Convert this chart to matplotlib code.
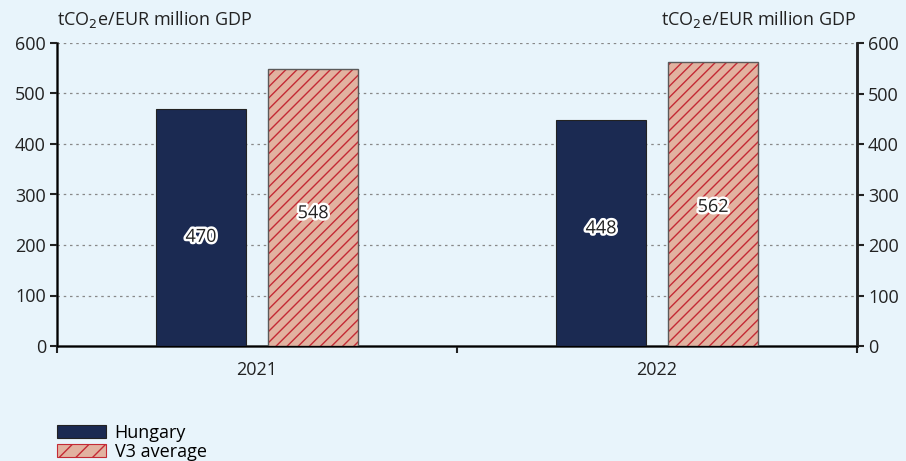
import matplotlib
matplotlib.use("Agg")
import matplotlib.pyplot as plt
import matplotlib.patheffects as pe
from matplotlib.patches import Patch
from matplotlib.ticker import FixedLocator
import numpy as np

years = ["2021", "2022"]
hungary = [470, 448]
v3_average = [548, 562]
series_names = ["Hungary", "V3 average"]
unit_label = "tCO$_2$e/EUR million GDP"

bg = "#E8F4FB"
navy = "#1B2A52"
salmon = "#E2B2A0"
hatch_red = "#C42A35"
edge_gray = "#5A5A5A"

plt.rcParams["font.family"] = ["Open Sans", "DejaVu Sans"]
plt.rcParams["hatch.linewidth"] = 1.0

fig = plt.figure(figsize=(9.06, 4.61), dpi=100, facecolor=bg)
ax = fig.add_axes([57 / 906, 1 - 346 / 461, 800 / 906, 303 / 461], facecolor=bg)

x = np.arange(len(years))
w = 0.225
off = 0.14

ax.bar(x - off, hungary, w, color=navy, edgecolor="#222222", linewidth=0.8, zorder=3)
ax.bar(x + off, v3_average, w, color=salmon, edgecolor=hatch_red, hatch="///",
       linewidth=0, zorder=3)
ax.bar(x + off, v3_average, w, fill=False, edgecolor=edge_gray, linewidth=1.0, zorder=4)

# value labels sit inside the bars, a little off centre
hu_label_frac = [0.46, 0.52]
v3_label_frac = [0.48, 0.49]
stroke = [pe.withStroke(linewidth=3.5, foreground="white")]
for xi, v, f in zip(x - off, hungary, hu_label_frac):
    ax.text(xi, v * f, f"{v}", ha="center", va="center", fontsize=13,
            color="#222222", path_effects=stroke, zorder=5)
for xi, v, f in zip(x + off, v3_average, v3_label_frac):
    ax.text(xi, v * f, f"{v}", ha="center", va="center", fontsize=13,
            color="#222222", path_effects=stroke, zorder=5)

ax.set_xlim(-0.5, 1.5)
ax.set_ylim(0, 600)
yt = np.arange(0, 601, 100)
ax.set_yticks(yt)
ax.set_yticklabels([str(t) for t in yt], fontsize=13, color="#222222")
for t in yt[1:]:
    ax.axhline(t, color="#888888", linestyle=(0, (2, 3)), linewidth=0.9, zorder=1)

ax.set_xticks(x)
ax.set_xticklabels(years, fontsize=13, color="#222222")
ax.tick_params(axis="x", which="major", length=0, pad=11)
ax.xaxis.set_minor_locator(FixedLocator([-0.5, 0.5, 1.5]))
ax.tick_params(axis="x", which="minor", length=5, width=1.5, direction="out", color="#222222")
ax.tick_params(axis="y", length=5, width=1.5, direction="out", color="#222222", pad=3)

ax.spines["top"].set_visible(False)
for s in ["left", "right", "bottom"]:
    ax.spines[s].set_linewidth(1.8)
    ax.spines[s].set_color("#222222")

ax2 = ax.twinx()
ax2.set_ylim(0, 600)
ax2.set_yticks(yt)
ax2.set_yticklabels([str(t) for t in yt], fontsize=13, color="#222222")
ax2.tick_params(axis="y", length=5, width=1.5, direction="out", color="#222222", pad=3)
ax2.spines["top"].set_visible(False)
ax2.spines["right"].set_linewidth(1.8)
ax2.spines["right"].set_color("#222222")

fig.text(57 / 906, 1 - 20 / 461, unit_label, ha="left", va="center", fontsize=13, color="#222222")
fig.text(856 / 906, 1 - 20 / 461, unit_label, ha="right", va="center", fontsize=13, color="#222222")

handles = [
    Patch(facecolor=navy, edgecolor="#222222", linewidth=0.8),
    Patch(facecolor=salmon, edgecolor=hatch_red, hatch="//", linewidth=0.8),
]
fig.legend(handles, series_names, loc="upper left", bbox_to_anchor=(46 / 906, 1 - 413 / 461),
           frameon=False, fontsize=13, handlelength=2.7, handleheight=0.75,
           handletextpad=0.5, labelspacing=0.05, borderpad=0.1)

fig.savefig("out.png", dpi=100, facecolor=bg)
